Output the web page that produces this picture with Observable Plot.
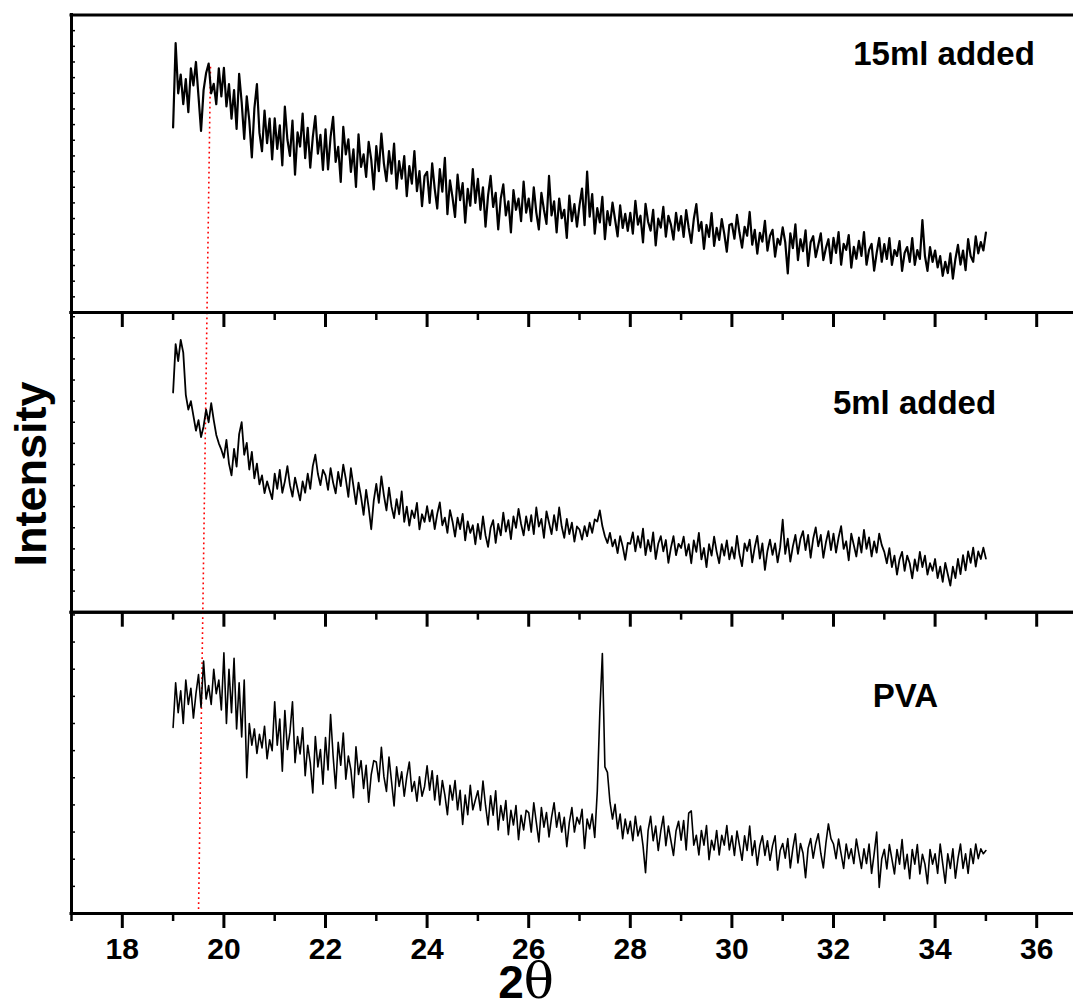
<!DOCTYPE html>
<html>
<head>
<meta charset="utf-8">
<script src="https://cdn.jsdelivr.net/npm/d3@7"></script>
<script src="https://cdn.jsdelivr.net/npm/@observablehq/plot@0.6"></script>
<style>
html, body { margin: 0; padding: 0; background: #fff; overflow: hidden; }
#chart { position: relative; width: 1073px; height: 1004px; font-family: "Liberation Sans", Arial, sans-serif; }
#chart svg { position: absolute; left: 0; top: 0; }
.ylab { position: absolute; left: 30px; top: 473.5px; transform: translate(-50%, -50%) rotate(-90deg);
  font-size: 45px; font-weight: bold; line-height: 1; white-space: nowrap; }
.xlab { position: absolute; left: 526px; top: 956px; transform: translateX(-50%);
  font-size: 46px; font-weight: bold; line-height: 1; white-space: nowrap; }
.xlab .th { font-family: "DejaVu Serif", "Liberation Serif", serif; font-weight: normal; font-size: 50px; }
</style>
</head>
<body>
<div id="chart"></div>
<script>
// 2θ sampling grid (19.00 … 35.00, step 0.05)
const twoTheta = d3.range(321).map(i => +(19 + i * 0.05).toFixed(2));

const sampleNames = ["15ml added", "5ml added", "PVA"];

const ml15Intensity = [
1182,1720,1400,1520,1330,1490,1280,1560,1450,1600,1380,1160,1420,1530,1590,1400,1460,1330,1560,1380,
1563,1316,1459,1238,1420,1173,1524,1342,1108,1381,1225,991,1303,1459,1147,1030,1290,1082,1238,978,
1240,1045,1195,940,1315,1105,1000,1225,880,1150,1060,1270,985,1180,925,1120,1255,1015,1135,910,
1170,914,1122,1250,962,1058,834,1186,1010,1106,898,1042,802,1138,930,1010,866,1090,978,786,
1063,903,1143,951,839,1031,887,1079,791,967,855,999,743,935,823,1031,775,903,679,871,
898,700,952,790,664,916,772,988,628,844,736,610,880,718,826,574,790,682,916,700,
854,656,800,548,746,872,674,764,530,728,818,620,710,512,782,656,728,584,836,638,
728,584,800,638,530,764,656,566,872,620,710,512,728,602,656,476,746,584,692,548,
684,792,558,900,612,756,504,666,576,738,468,648,558,702,594,486,684,540,630,522,
637,504,713,561,618,447,694,580,523,656,428,599,542,675,485,618,561,466,637,523,
616,483,654,540,445,597,692,521,578,407,559,483,635,426,540,464,597,502,388,559,
566,471,623,509,414,547,490,642,433,528,376,509,452,585,395,490,528,357,471,433,
544,449,250,506,411,563,335,468,392,525,297,449,487,354,430,506,335,411,468,316,
476,381,514,305,438,400,495,286,419,343,457,362,514,305,400,438,267,381,476,324,
437,342,475,304,399,361,456,266,380,418,323,475,304,399,342,590,361,266,418,323,
396,288,360,234,324,252,378,216,342,432,306,396,270,468,360,324,486,378,450,396,510];

const ml5Intensity = [
1041,1270,1190,1290,1230,1030,960,1000,930,860,910,830,880,960,900,990,910,840,800,770,
732,816,704,648,774,690,844,900,746,802,676,760,634,704,606,648,564,620,578,536,
656,584,674,566,620,692,602,548,638,584,530,620,566,656,584,692,746,656,602,674,
648,580,682,614,563,665,597,699,631,546,682,597,512,614,546,461,580,495,393,529,
608,518,644,554,482,590,500,446,536,464,572,428,500,410,482,446,518,392,464,428,
502,430,484,394,466,520,412,448,376,484,430,358,448,394,466,340,430,376,412,322,
418,346,454,364,310,400,436,328,418,364,472,382,436,346,454,400,490,418,364,454,
388,460,370,496,406,442,352,478,424,370,460,388,496,406,352,442,370,424,334,406,
392,344,408,360,424,376,440,430,482,408,360,328,376,312,344,280,360,312,248,328,
324,378,288,360,306,396,270,342,288,378,252,324,360,288,342,234,306,360,270,324,
304,358,268,322,232,340,286,376,250,304,214,322,268,358,286,232,322,268,340,250,
308,254,362,272,218,326,290,344,236,308,362,254,326,200,290,344,272,326,236,308,
438,276,348,240,312,366,276,348,384,294,366,258,348,402,312,366,258,330,384,294,
372,282,354,408,300,336,246,372,318,264,354,282,390,300,354,264,336,282,372,318,
286,232,304,214,268,178,250,286,196,268,232,160,250,196,286,214,268,178,232,196,
252,162,216,144,234,180,126,216,162,252,180,270,198,288,234,306,216,288,252,306,254];

const pvaIntensity = [
685,850,740,820,700,860,770,830,720,810,880,760,930,790,840,770,900,810,860,750,
960,700,900,740,940,680,850,650,860,500,700,620,680,590,660,610,690,570,640,600,
780,620,716,524,748,604,668,780,556,652,588,684,508,620,556,444,652,540,604,476,
648,529,733,580,461,631,546,665,495,580,529,427,614,512,563,461,546,410,512,563,
558,486,612,504,450,576,486,396,540,468,522,432,504,558,450,486,414,504,432,468,
544,454,526,418,508,400,490,436,364,472,418,490,382,454,328,436,364,472,382,418,
452,380,488,398,326,434,362,452,308,398,344,416,290,380,326,398,272,362,308,380,
372,300,408,336,264,390,318,372,282,354,408,318,372,300,354,246,336,390,300,354,
330,384,240,348,312,366,280,450,740,958,540,520,410,348,402,312,366,276,348,294,
340,268,358,286,322,250,150,304,358,268,322,232,304,358,250,322,268,214,304,340,
270,342,234,370,378,252,288,216,306,252,324,198,270,234,306,216,288,252,324,234,
286,214,304,250,196,286,232,322,214,268,178,250,286,214,268,196,250,286,160,232,
258,204,276,168,240,294,186,258,222,132,240,276,204,258,294,222,168,258,330,276,
256,202,274,220,166,256,202,238,184,274,220,166,238,184,256,148,220,300,96,202,
236,164,254,200,146,236,182,272,164,218,128,236,182,254,146,218,182,110,236,182,
220,148,256,184,112,220,166,238,130,202,256,166,220,148,238,184,256,202,238,220,232];

const xMajorTicks = [18, 20, 22, 24, 26, 28, 30, 32, 34, 36];
const xTickLabels = ["18", "20", "22", "24", "26", "28", "30", "32", "34", "36"];
const xMinorTicks = [17, 19, 21, 23, 25, 27, 29, 31, 33, 35];
const xDomain = [17, 37];

// red dotted guide: 2θ at its start and at each panel boundary
const guideTwoTheta = [19.736, 19.667, 19.585, 19.50];
const guideStartIntensity = 1570;

// intensity axis extent of each panel (counts)
const panelMax = [1900, 1420, 1110];

const FONT = '"Liberation Sans", Arial, sans-serif';

function panel(k, values, layout) {
  const data = twoTheta.map((x, i) => ({x, v: values[i]}));
  const yTop = panelMax[k];
  const guide = [{
    x1: guideTwoTheta[k], x2: guideTwoTheta[k + 1],
    y1: k === 0 ? guideStartIntensity : yTop, y2: 0
  }];
  const showLabels = k === 2;
  return Plot.plot({
    width: 1073, height: 1004,
    marginLeft: 71, marginRight: 0,
    marginTop: layout.top, marginBottom: 1004 - layout.bottom,
    style: {background: "transparent", fontFamily: FONT, color: "black"},
    x: {domain: xDomain, range: [71, 1087], label: null},
    y: {domain: [0, yTop], label: null},
    marks: [
      Plot.axisY({ticks: d3.range(100, yTop, 100), tickSize: -4, strokeWidth: 1.5,
        tickFormat: () => "", label: null}),
      Plot.axisX({ticks: xMinorTicks, tickSize: 8, strokeWidth: 2.5,
        tickFormat: () => "", label: null}),
      Plot.axisX({ticks: xMajorTicks, tickSize: 15, strokeWidth: 3, tickPadding: 9,
        fontSize: 30, fontWeight: "bold",
        tickFormat: (d, i) => showLabels ? xTickLabels[i] : "", label: null}),
      Plot.link(guide, {x1: "x1", x2: "x2", y1: "y1", y2: "y2",
        stroke: "#ff0000", strokeWidth: 1.6, strokeDasharray: "1.8,3.2"}),
      Plot.line(data, {x: "x", y: "v", stroke: "black", strokeWidth: layout.sw}),
      Plot.ruleX([xDomain[0]], {strokeWidth: 3, strokeLinecap: "square"}),
      Plot.ruleY([0, yTop], {strokeWidth: 3, strokeLinecap: "square"}),
      Plot.text([sampleNames[k]], {frameAnchor: "top-right", dx: layout.ldx, dy: layout.ldy,
        textAnchor: "middle", lineAnchor: "bottom", fontSize: 33, fontWeight: "bold",
        fill: "black"})
    ]
  });
}

const chart = document.getElementById("chart");
chart.append(panel(0, ml15Intensity, {top: 14.5, bottom: 312, sw: 2.2, ldx: -129.5, ldy: 49.5}));
chart.append(panel(1, ml5Intensity, {top: 312, bottom: 611.7, sw: 1.8, ldx: -159, ldy: 101}));
chart.append(panel(2, pvaIntensity, {top: 611.7, bottom: 913, sw: 1.6, ldx: -168, ldy: 94.3}));

const yl = document.createElement("div");
yl.className = "ylab";
yl.textContent = "Intensity";
chart.append(yl);

const xl = document.createElement("div");
xl.className = "xlab";
xl.innerHTML = '2<span class="th">θ</span>';
chart.append(xl);
</script>
</body>
</html>
